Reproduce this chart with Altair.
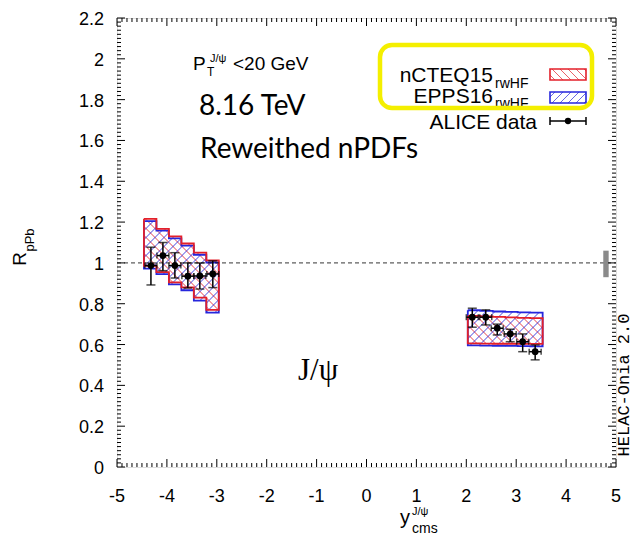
import math
import altair as alt
import pandas as pd

# ---------------- data ----------------
left_edges = [-4.46, -4.21, -3.96, -3.71, -3.46, -3.21, -2.96]
right_edges = [2.03, 2.28, 2.53, 2.78, 3.03, 3.28, 3.53]

ncteq_left_hi = [1.216, 1.167, 1.130, 1.095, 1.050, 1.012]
ncteq_left_lo = [0.985, 0.955, 0.905, 0.880, 0.830, 0.770]
epps_left_hi = [1.205, 1.158, 1.120, 1.085, 1.040, 1.002]
epps_left_lo = [0.972, 0.945, 0.895, 0.866, 0.815, 0.756]

ncteq_right_hi = [0.740, 0.738, 0.736, 0.733, 0.731, 0.729]
ncteq_right_lo = [0.606, 0.605, 0.604, 0.604, 0.603, 0.603]
epps_right_hi = [0.768, 0.765, 0.762, 0.760, 0.758, 0.756]
epps_right_lo = [0.596, 0.595, 0.594, 0.593, 0.592, 0.591]

alice_x = [-4.32, -4.08, -3.84, -3.58, -3.34, -3.08, 2.12, 2.39, 2.62, 2.88, 3.13, 3.38]
alice_y = [0.987, 1.036, 0.987, 0.935, 0.936, 0.946, 0.734, 0.734, 0.680, 0.652, 0.614, 0.565]
alice_lo = [0.892, 0.962, 0.926, 0.877, 0.872, 0.879, 0.685, 0.696, 0.647, 0.614, 0.565, 0.525]
alice_hi = [1.077, 1.100, 1.050, 1.000, 1.000, 1.010, 0.778, 0.770, 0.700, 0.675, 0.652, 0.598]
alice_dx = 0.12

glob_x = [4.745, 4.853]
glob_y = [0.93, 1.06]

x_ticks = [-5, -4, -3, -2, -1, 0, 1, 2, 3, 4, 5]
y_ticks = [0, 0.2, 0.4, 0.6, 0.8, 1, 1.2, 1.4, 1.6, 1.8, 2, 2.2]

# ---------------- layout ----------------
W, H = 499, 449
XD, YD = [-5, 5], [0, 2.2]
PXX = W / (XD[1] - XD[0])
PXY = H / (YD[1] - YD[0])
RED, BLUE = "#e3202a", "#2626dc"
FONT = "Liberation Sans"

xs = alt.Scale(domain=XD, nice=False, zero=False)
ys = alt.Scale(domain=YD, nice=False, zero=False)


def segs(U0, U1, V0, V1, slope, step):
    out = []
    if slope > 0:
        cmin, cmax = V0 - U1, V1 - U0
    else:
        cmin, cmax = V0 + U0, V1 + U1
    k = math.ceil(cmin / step)
    while k * step <= cmax:
        c = k * step
        if slope > 0:
            ua, ub = max(U0, V0 - c), min(U1, V1 - c)
            va, vb = ua + c, ub + c
        else:
            ua, ub = max(U0, c - V1), min(U1, c - V0)
            va, vb = c - ua, c - ub
        if ub - ua > 0.3:
            out.append((ua, va, ub, vb))
        k += 1
    return out


def hatch(edges, lo, hi, slope, step=9.0):
    rows = []
    for i in range(len(lo)):
        for ua, va, ub, vb in segs(edges[i] * PXX, edges[i + 1] * PXX,
                                   lo[i] * PXY, hi[i] * PXY, slope, step):
            rows.append(dict(x=ua / PXX, y=va / PXY, x2=ub / PXX, y2=vb / PXY))
    return pd.DataFrame(rows)


def outline(edges, lo, hi):
    pts = []
    n = len(lo)
    for i in range(n):
        pts += [(edges[i], hi[i]), (edges[i + 1], hi[i])]
    for i in reversed(range(n)):
        pts += [(edges[i + 1], lo[i]), (edges[i], lo[i])]
    pts.append(pts[0])
    return pd.DataFrame({"x": [p[0] for p in pts], "y": [p[1] for p in pts],
                         "o": list(range(len(pts)))})


def rules(df, color, width=1.0, opacity=1.0, dash=None):
    kw = dict(color=color, strokeWidth=width, opacity=opacity)
    if dash:
        kw["strokeDash"] = dash
    return alt.Chart(df).mark_rule(**kw).encode(
        x=alt.X("x:Q", scale=xs, axis=None), y=alt.Y("y:Q", scale=ys, axis=None),
        x2="x2:Q", y2="y2:Q")


def outline_chart(df, color):
    return alt.Chart(df).mark_line(color=color, strokeWidth=1.8).encode(
        x=alt.X("x:Q", scale=xs, axis=None), y=alt.Y("y:Q", scale=ys, axis=None),
        order="o:Q")


X = lambda f: alt.X(f"{f}:Q", scale=xs, axis=None)
Y = lambda f: alt.Y(f"{f}:Q", scale=ys, axis=None)

layers = []

# hatching
red_h = pd.concat([hatch(left_edges, ncteq_left_lo, ncteq_left_hi, -1),
                   hatch(right_edges, ncteq_right_lo, ncteq_right_hi, -1)])
blue_h = pd.concat([hatch(left_edges, epps_left_lo, epps_left_hi, 1),
                    hatch(right_edges, epps_right_lo, epps_right_hi, 1)])
layers.append(rules(red_h, RED, 1.0, 0.85))
layers.append(rules(blue_h, BLUE, 1.0, 0.85))

# band outlines
layers.append(outline_chart(outline(left_edges, epps_left_lo, epps_left_hi), BLUE))
layers.append(outline_chart(outline(right_edges, epps_right_lo, epps_right_hi), BLUE))
layers.append(outline_chart(outline(left_edges, ncteq_left_lo, ncteq_left_hi), RED))
layers.append(outline_chart(outline(right_edges, ncteq_right_lo, ncteq_right_hi), RED))

# dashed unity line
unity = pd.DataFrame({"x": [XD[0]], "x2": [XD[1]], "y": [1.0], "y2": [1.0]})
layers.append(rules(unity, "black", 0.8, 1.0, [4, 3]))

# global uncertainty box
gbox = pd.DataFrame({"x": [glob_x[0]], "x2": [glob_x[1]], "y": [glob_y[0]], "y2": [glob_y[1]]})
layers.append(alt.Chart(gbox).mark_rect(color="#8a8a8a").encode(
    x=X("x"), x2="x2:Q", y=Y("y"), y2="y2:Q"))

# frame ticks (inward, on all four sides)
tk = []
maj, mnr = 8.0, 4.0
for i in range(0, 101):
    xv = XD[0] + i * 0.1
    ln = maj if i % 10 == 0 else mnr
    tk.append(dict(x=xv, x2=xv, y=YD[0], y2=YD[0] + ln / PXY))
    tk.append(dict(x=xv, x2=xv, y=YD[1], y2=YD[1] - ln / PXY))
for i in range(0, 111):
    yv = YD[0] + i * 0.02
    ln = maj if i % 10 == 0 else mnr
    tk.append(dict(x=XD[0], x2=XD[0] + ln / PXX, y=yv, y2=yv))
    tk.append(dict(x=XD[1], x2=XD[1] - ln / PXX, y=yv, y2=yv))
layers.append(rules(pd.DataFrame(tk), "black", 1.0))

# tick labels (positioned through the x / y scales)
xl = pd.DataFrame({"v": x_ticks, "t": [f"{v:g}" for v in x_ticks]})
layers.append(alt.Chart(xl).mark_text(font=FONT, fontSize=18, color="black",
                                       align="center", baseline="middle").encode(
    x=X("v"), y=alt.value(H + 30), text="t:N"))
yl = pd.DataFrame({"v": y_ticks, "t": [f"{v:g}" for v in y_ticks]})
layers.append(alt.Chart(yl).mark_text(font=FONT, fontSize=18, color="black",
                                       align="right", baseline="middle", dy=2).encode(
    x=alt.value(-13), y=Y("v"), text="t:N"))

# ALICE data
alice = pd.DataFrame({"x": alice_x, "y": alice_y, "lo": alice_lo, "hi": alice_hi})
alice["xl"] = alice["x"] - alice_dx
alice["xh"] = alice["x"] + alice_dx
layers.append(alt.Chart(alice).mark_rule(color="black", strokeWidth=1.5).encode(
    x=X("x"), y=Y("lo"), y2="hi:Q"))
layers.append(alt.Chart(alice).mark_rule(color="black", strokeWidth=1.5).encode(
    x=X("xl"), x2="xh:Q", y=Y("y")))
for f in ["lo", "hi"]:
    layers.append(alt.Chart(alice).mark_tick(color="black", orient="horizontal",
                                              size=9, thickness=1.5).encode(x=X("x"), y=Y(f)))
for f in ["xl", "xh"]:
    layers.append(alt.Chart(alice).mark_tick(color="black", orient="vertical",
                                              size=6, thickness=1.5).encode(x=X(f), y=Y("y")))
layers.append(alt.Chart(alice).mark_point(filled=True, color="black", size=45, opacity=1).encode(
    x=X("x"), y=Y("y")))

# ---------------- annotations (pixel positions in plot area) ----------------
PX = lambda f: alt.X(f"{f}:Q", scale=None, axis=None)
PY = lambda f: alt.Y(f"{f}:Q", scale=None, axis=None)


def txt(rows, **style):
    df = pd.DataFrame(rows, columns=["px", "py", "t"])
    base = dict(color="black", baseline="alphabetic", align="left")
    base.update(style)
    return alt.Chart(df).mark_text(**base).encode(x=PX("px"), y=PY("py"), text="t:N")


layers.append(txt([(76, 52, "P"), (116, 52, "<20 GeV")], font=FONT, fontSize=19))
layers.append(txt([(90, 58, "T")], font=FONT, fontSize=12))
layers.append(txt([(93, 44, "J/ψ")], font=FONT, fontSize=11))
layers.append(txt([(82, 97, "8.16 TeV"), (83, 140, "Reweithed nPDFs")], font="Lato", fontSize=28))
layers.append(txt([(181, 362, "J/ψ")], font="Liberation Serif", fontSize=31))
layers.append(txt([(507, 367, "HELAC-Onia 2.0")], font="Liberation Mono", fontSize=17,
                  angle=270, align="center", baseline="middle"))
# axis titles
layers.append(txt([(283, 506, "y")], font=FONT, fontSize=20))
layers.append(txt([(295, 497, "J/ψ")], font=FONT, fontSize=11))
layers.append(txt([(295, 515, "cms")], font=FONT, fontSize=14))
layers.append(txt([(-97, 241, "R")], font=FONT, fontSize=19, angle=270,
                  align="center", baseline="middle"))
layers.append(txt([(-87, 222, "pPb")], font=FONT, fontSize=13, angle=270,
                  align="center", baseline="middle"))

# legend
layers.append(txt([(376, 64, "nCTEQ15"), (376, 85, "EPPS16"), (420, 111, "ALICE data")],
                  font=FONT, fontSize=21, align="right"))
layers.append(txt([(378, 70, "rwHF"), (378, 90, "rwHF")], font=FONT, fontSize=14))

sw = [(433, 469, 51, 62, RED, -1), (433, 469, 74, 85, BLUE, 1)]
for a, b, c, d, col, s in sw:
    rows = [dict(a=ua, c=-va, b=ub, d=-vb) for ua, va, ub, vb in segs(a, b, -d, -c, s, 8.0)]
    layers.append(alt.Chart(pd.DataFrame(rows)).mark_rule(color=col, strokeWidth=1, opacity=0.7).encode(
        x=PX("a"), x2="b:Q", y=PY("c"), y2="d:Q"))
    one = pd.DataFrame([dict(a=a, b=b, c=c, d=d)])
    layers.append(alt.Chart(one).mark_rect(fillOpacity=0, stroke=col, strokeWidth=1.6).encode(
        x=PX("a"), x2="b:Q", y=PY("c"), y2="d:Q"))

sym = pd.DataFrame([dict(a=433, b=469, c=103, d=103)])
layers.append(alt.Chart(sym).mark_rule(color="black", strokeWidth=1.5).encode(
    x=PX("a"), x2="b:Q", y=PY("c"), y2="d:Q"))
caps = pd.DataFrame([dict(a=433, c=99, d=107), dict(a=469, c=99, d=107)])
layers.append(alt.Chart(caps).mark_rule(color="black", strokeWidth=1.5).encode(
    x=PX("a"), y=PY("c"), y2="d:Q"))
dot = pd.DataFrame([dict(a=451, c=103)])
layers.append(alt.Chart(dot).mark_point(filled=True, color="black", size=40, opacity=1).encode(
    x=PX("a"), y=PY("c")))

ybox = pd.DataFrame([dict(a=263, b=475, c=27, d=90)])
layers.append(alt.Chart(ybox).mark_rect(fillOpacity=0, stroke="#f4ef00", strokeWidth=4.5,
                                         cornerRadius=12).encode(
    x=PX("a"), x2="b:Q", y=PY("c"), y2="d:Q"))

chart = alt.layer(*layers).properties(
    width=W, height=H,
    autosize=alt.AutoSizeParams(type="none"),
    padding={"left": 109, "top": 10, "right": 20, "bottom": 75},
).configure_view(stroke="black", strokeWidth=1.5).configure(background="white")

chart.save("out.html", embed_options={"renderer": "svg", "actions": False})
